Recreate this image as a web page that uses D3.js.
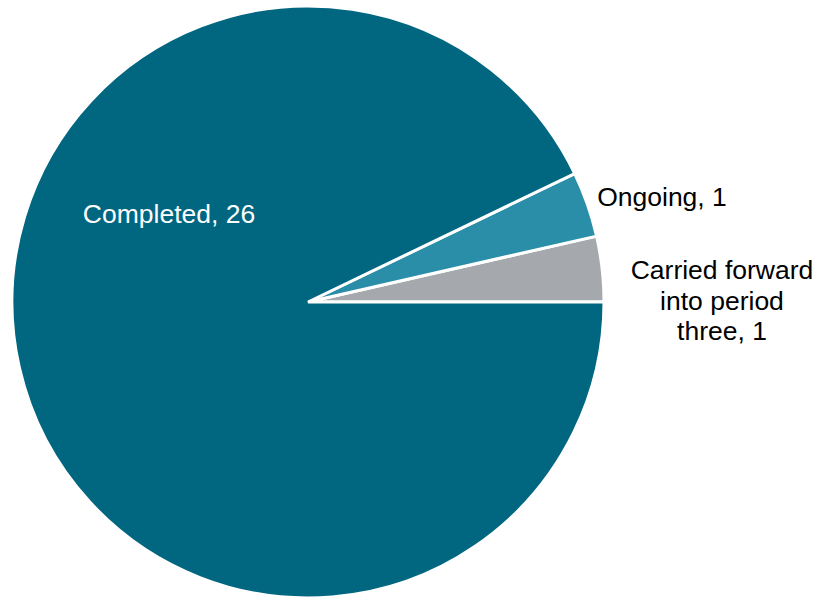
<!DOCTYPE html>
<html>
<head>
<meta charset="utf-8">
<script src="https://cdn.jsdelivr.net/npm/d3@7"></script>
<style>
  body { margin: 0; background: #fff; }
  svg { display: block; }
</style>
</head>
<body>
<div id="chart"></div>
<script>
// slice data, in drawing order (counter-clockwise from 3 o'clock)
const categories = ["Carried forward into period three", "Ongoing", "Completed"];
const values = [1, 1, 26];
const labelLines = [["Carried forward", "into period", "three, 1"], ["Ongoing, 1"], ["Completed, 26"]];
const colors = ["#a5a8ad", "#2a8ea8", "#016680"];

const width = 818, height = 597;
const cx = 308, cy = 302, radius = 296;

const svg = d3.select("#chart")
    .append("svg")
    .attr("width", width)
    .attr("height", height);

const group = svg.append("g")
    .attr("transform", "translate(" + cx + "," + cy + ")");

// start at 3 o'clock and run counter-clockwise
const pie = d3.pie()
    .sort(null)
    .value((d) => d)
    .startAngle(Math.PI / 2)
    .endAngle(Math.PI / 2 - 2 * Math.PI);

const arc = d3.arc().innerRadius(0).outerRadius(radius);
const arcs = pie(values);

group.selectAll("path")
    .data(arcs)
    .enter()
    .append("path")
    .attr("d", arc)
    .style("fill", (d, i) => colors[i])
    .style("stroke", "#fff")
    .style("stroke-width", 3)
    .style("stroke-linejoin", "miter");

// label positions (relative to centre) and colours
const labelPos = [
    { x: 414, y: -23, fill: "#000" },
    { x: 354, y: -96, fill: "#000" },
    { x: -139, y: -79, fill: "#fff" }
];

const label = group.selectAll("text.lbl")
    .data(arcs)
    .enter()
    .append("text")
    .attr("class", "lbl")
    .attr("text-anchor", "middle")
    .style("font-family", "Liberation Sans, Arial, sans-serif")
    .style("font-size", "26.5px")
    .style("fill", (d, i) => labelPos[i].fill);

label.each(function(d, i) {
    const lines = labelLines[i];
    d3.select(this).selectAll("tspan")
        .data(lines)
        .enter()
        .append("tspan")
        .attr("x", labelPos[i].x)
        .attr("y", (l, j) => labelPos[i].y + j * 30.5)
        .text((l) => l);
});
</script>
</body>
</html>
